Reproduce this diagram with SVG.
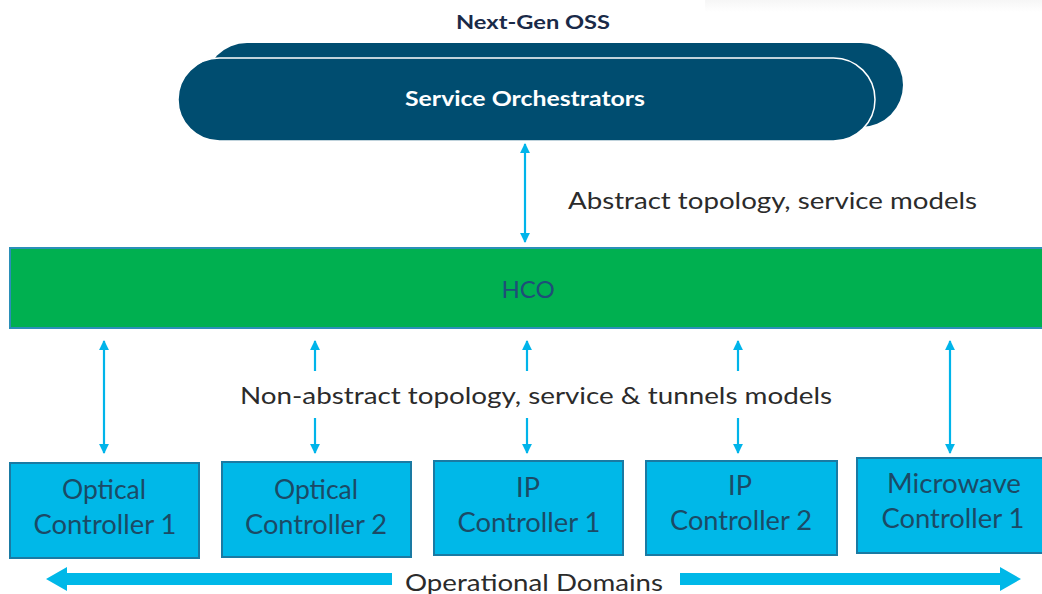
<svg xmlns="http://www.w3.org/2000/svg" width="1042" height="594" viewBox="0 0 1042 594">
<style>
.t{font-family:Lato,"Liberation Sans",sans-serif;}
.lbl{font-size:24px;fill:#2b2b2b;}
.ctl{font-size:27px;fill:#1b4a66;text-anchor:middle;}
.box{fill:#00b8e8;stroke:#1a7aa3;stroke-width:2;}
.conn{stroke:#00b4ea;stroke-width:2.2;fill:none;}
.big{fill:#00b8e8;}
</style>
<defs>
<marker id="ah" viewBox="0 0 10 10" refX="9" refY="5" markerWidth="4.5" markerHeight="4.5" orient="auto-start-reverse" markerUnits="strokeWidth">
<path d="M0,0 L10,5 L0,10 Z" fill="#00b4ea"/>
</marker>
<linearGradient id="sh" x1="0" y1="0" x2="0" y2="1">
<stop offset="0" stop-color="#f6f6f6"/><stop offset="1" stop-color="#ffffff"/>
</linearGradient>
</defs>
<rect x="0" y="0" width="1042" height="594" fill="#ffffff"/>
<rect x="705" y="0" width="337" height="12" fill="url(#sh)"/>

<g id="oss">
<text class="t" x="533" y="29" font-size="19" font-weight="700" fill="#1a2a48" text-anchor="middle" textLength="154" lengthAdjust="spacingAndGlyphs">Next-Gen OSS</text>
<rect x="205" y="43" width="698" height="84" rx="42" fill="#004d70"/>
<rect x="178" y="58" width="697" height="83" rx="41.5" fill="#004d70" stroke="#ffffff" stroke-width="1.5"/>
<text class="t" x="525" y="106" font-size="20" font-weight="700" fill="#ffffff" text-anchor="middle" textLength="240" lengthAdjust="spacingAndGlyphs">Service Orchestrators</text>
</g>

<g id="hco">
<rect x="10" y="248" width="1040" height="80" fill="#00b050" stroke="#2a8fb8" stroke-width="2"/>
<text class="t" x="528" y="298" font-size="24" fill="#1f4e79" text-anchor="middle">HCO</text>
</g>

<g id="ctrl1">
<rect class="box" x="10" y="463" width="189" height="95"/>
<text class="t ctl" x="104" y="499" textLength="84" lengthAdjust="spacingAndGlyphs">Optical</text>
<text class="t ctl" x="105" y="534" textLength="143" lengthAdjust="spacingAndGlyphs">Controller 1</text>
</g>
<g id="ctrl2">
<rect class="box" x="222" y="462" width="189" height="95"/>
<text class="t ctl" x="316" y="499" textLength="84" lengthAdjust="spacingAndGlyphs">Optical</text>
<text class="t ctl" x="316" y="534" textLength="142" lengthAdjust="spacingAndGlyphs">Controller 2</text>
</g>
<g id="ctrl3">
<rect class="box" x="434" y="461" width="189" height="94"/>
<text class="t ctl" x="528" y="497">IP</text>
<text class="t ctl" x="529" y="532" textLength="143" lengthAdjust="spacingAndGlyphs">Controller 1</text>
</g>
<g id="ctrl4">
<rect class="box" x="646" y="461" width="191" height="94"/>
<text class="t ctl" x="740" y="495">IP</text>
<text class="t ctl" x="741" y="530" textLength="142" lengthAdjust="spacingAndGlyphs">Controller 2</text>
</g>
<g id="ctrl5">
<rect class="box" x="857" y="458" width="190" height="95"/>
<text class="t ctl" x="954" y="493" textLength="134" lengthAdjust="spacingAndGlyphs">Microwave</text>
<text class="t ctl" x="953" y="528" textLength="143" lengthAdjust="spacingAndGlyphs">Controller 1</text>
</g>

<g id="connectors">
<line class="conn" x1="525" y1="144" x2="525" y2="242" marker-start="url(#ah)" marker-end="url(#ah)"/>
<line class="conn" x1="104" y1="341" x2="104" y2="453" marker-start="url(#ah)" marker-end="url(#ah)"/>
<line class="conn" x1="950" y1="341" x2="950" y2="453" marker-start="url(#ah)" marker-end="url(#ah)"/>
<line class="conn" x1="315" y1="371" x2="315" y2="341" marker-end="url(#ah)"/>
<line class="conn" x1="315" y1="418" x2="315" y2="453" marker-end="url(#ah)"/>
<line class="conn" x1="527" y1="371" x2="527" y2="341" marker-end="url(#ah)"/>
<line class="conn" x1="527" y1="418" x2="527" y2="453" marker-end="url(#ah)"/>
<line class="conn" x1="738" y1="371" x2="738" y2="341" marker-end="url(#ah)"/>
<line class="conn" x1="738" y1="418" x2="738" y2="453" marker-end="url(#ah)"/>
<path class="big" d="M392,573 L67,573 L67,567 L46,579 L67,591 L67,585 L392,585 Z"/>
<path class="big" d="M680,573 L1000,573 L1000,567 L1021,579 L1000,591 L1000,585 L680,585 Z"/>
</g>

<text class="t lbl" x="568" y="209" textLength="409" lengthAdjust="spacingAndGlyphs">Abstract topology, service models</text>
<text class="t lbl" x="240" y="404" textLength="592" lengthAdjust="spacingAndGlyphs">Non-abstract topology, service &amp; tunnels models</text>
<text class="t lbl" x="405" y="591" textLength="258" lengthAdjust="spacingAndGlyphs">Operational Domains</text>
</svg>
